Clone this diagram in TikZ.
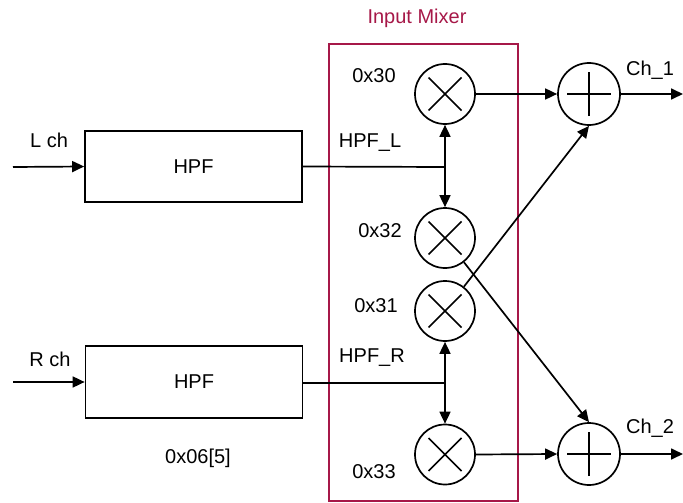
\documentclass[tikz,border=0pt]{standalone}
\usepackage{fontspec}
\setmainfont{Liberation Sans}
\usetikzlibrary{arrows.meta}
\definecolor{mixred}{RGB}{166,24,72}
\tikzset{
  blk/.style={draw, line width=1.7pt, minimum width=217pt, minimum height=71pt, inner sep=0pt},
  mul/.style={circle, draw, line width=1.7pt, minimum size=60pt, inner sep=0pt,
    path picture={\draw[line width=1.7pt]
      ([shift={(-16.5pt,-16.5pt)}]path picture bounding box.center) -- ([shift={(16.5pt,16.5pt)}]path picture bounding box.center)
      ([shift={(-16.5pt,16.5pt)}]path picture bounding box.center) -- ([shift={(16.5pt,-16.5pt)}]path picture bounding box.center);}},
  add/.style={circle, draw, line width=1.7pt, minimum size=62pt, inner sep=0pt,
    path picture={\draw[line width=1.7pt]
      ([xshift=-22pt]path picture bounding box.center) -- ([xshift=22pt]path picture bounding box.center)
      ([yshift=-22pt]path picture bounding box.center) -- ([yshift=22pt]path picture bounding box.center);}},
  lbl/.style={anchor=base, inner sep=0pt},
  sig/.style={line width=1.7pt, -{Triangle[length=12pt,width=11pt]}},
}
\begin{document}
\begin{tikzpicture}[x=1pt, y=-1pt, font=\fontsize{20}{24}\selectfont]
  \useasboundingbox (0,0) rectangle (683,503);
  % mixer frame
  \node[draw=mixred, line width=1.8pt, minimum width=189pt, minimum height=457pt, inner sep=0pt] (Mixer) at (423.5,272.5) {};
  \node[lbl, text=mixred] (MixerLbl) at (417,24) {Input Mixer};
  % filters
  \node[blk] (HpfL) at (193.5,166.5) {HPF};
  \node[blk, minimum height=72pt] (HpfR) at (194,382) {HPF};
  \node[lbl] (LchLbl) at (49,147) {L ch};
  \node[lbl] (RchLbl) at (50,366) {R ch};
  \node[lbl] (RegLbl) at (198,463) {0x06[5]};
  \coordinate (InL) at (13,167);
  \coordinate (InR) at (13,382);
  % multipliers
  \node[mul] (M30) at (445,94) {};
  \node[mul] (M32) at (445,238) {};
  \node[mul] (M31) at (445,311) {};
  \node[mul] (M33) at (445,454.5) {};
  \node[lbl] (M30Lbl) at (374,83) {0x30};
  \node[lbl] (M32Lbl) at (380,237) {0x32};
  \node[lbl] (M31Lbl) at (376,312) {0x31};
  \node[lbl] (M33Lbl) at (374,478) {0x33};
  \node[lbl] (HpfLLbl) at (370,147) {HPF\_L};
  \node[lbl] (HpfRLbl) at (372,362) {HPF\_R};
  \coordinate (JL) at (445,167);
  \coordinate (JR) at (445,383);
  % adders
  \node[add] (Sum1) at (589,94) {};
  \node[add] (Sum2) at (589,454) {};
  \node[lbl] (Ch1Lbl) at (650,75) {Ch\_1};
  \node[lbl] (Ch2Lbl) at (650,433) {Ch\_2};
  \coordinate (Out1) at (683,94);
  \coordinate (Out2) at (683,454);
  % connections
  \draw[sig] (InL) -- (HpfL.west);
  \draw[sig] (InR) -- (HpfR.west);
  \draw[line width=1.7pt] (HpfL.east) -- (JL);
  \draw[line width=1.7pt] (HpfR.east |- JR) -- (JR);
  \draw[sig] (JL) -- (M30.south);
  \draw[sig] (JL) -- (M32.north);
  \draw[sig] (JR) -- (M31.south);
  \draw[sig] (JR) -- (M33.north);
  \draw[sig] (M30.east) -- (Sum1.west);
  \draw[sig] (M33.east) -- (Sum2.west);
  \draw[sig] (M31) -- (Sum1.south);
  \draw[sig] (M32) -- (Sum2.north);
  \draw[sig] (Sum1.east) -- (Out1);
  \draw[sig] (Sum2.east) -- (Out2);
\end{tikzpicture}
\end{document}
